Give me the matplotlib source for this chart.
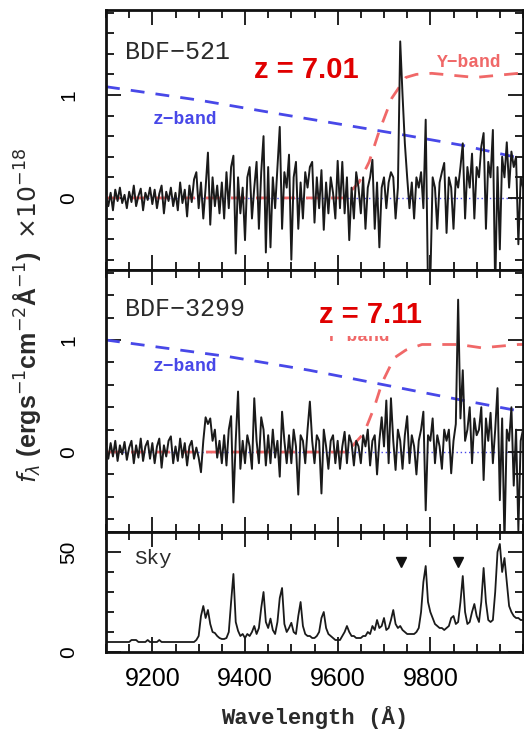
import numpy as np
import matplotlib
matplotlib.use("Agg")
import matplotlib.pyplot as plt
from matplotlib.ticker import MultipleLocator

# ---------------- data ----------------
wave_start, wave_step = 9100, 5   # spectra sampled every 5 A from 9100 to 10000

flux_521 = [
    0.02, -0.08, 0.05, -0.12, 0.08, -0.03, 0.1, -0.05, 0.03, -0.1,
    0.06, -0.04, 0.12, -0.08, 0.02, 0.09, -0.12, 0.05, -0.02, 0.1,
    -0.06, 0.08, -0.1, 0.04, 0.12, -0.15, 0.06, -0.03, 0.1, -0.08,
    0.05, -0.12, 0.15, -0.05, 0.08, -0.18, 0.12, -0.04, 0.18, 0.25,
    -0.1, 0.15, -0.2, 0.1, 0.44, -0.26, 0.2, -0.08, 0.12, -0.15,
    0.15, -0.2, 0.25, -0.1, 0.3, 0.41, -0.54, 0.2, -0.15, 0.1,
    -0.41, 0.2, 0.3, -0.2, 0.1, 0.35, -0.3, 0.25, 0.6, -0.53,
    0.3, -0.48, 0.2, -0.1, 0.3, 0.69, -0.3, 0.25, 0.1, 0.42,
    -0.6, 0.2, 0.35, -0.3, 0.15, -0.2, 0.25, 0.1, 0.3, 0.35,
    -0.24, 0.2, -0.1, 0.27, -0.31, 0.15, -0.15, 0.2, 0.05, -0.2,
    0.36, -0.1, 0.35, -0.15, 0.2, -0.41, 0.1, -0.2, 0.25, 0.1,
    -0.15, 0.2, -0.3, 0.1, 0.2, 0.37, -0.3, 0.15, -0.48, 0.1,
    0.2, -0.1, 0.15, 0.25, 0.2, -0.2, 0.1, 1.52, 1.0, 0.53,
    0.2, -0.1, 0.15, -0.2, 0.2, 0.1, 0.25, -0.1, 0.76, -0.9,
    -0.8, 0.2, 0.1, -0.3, 0.15, 0.25, 0.34, -0.34, 0.2, 0.1,
    -0.3, 0.2, 0.1, 0.3, 0.53, -0.2, 0.3, 0.1, 0.43, -0.2,
    0.3, 0.2, 0.5, 0.63, -0.3, 0.35, 0.2, 0.66, -0.9, 0.3,
    -0.5, 0.4, 0.2, 0.54, 0.1, 0.45, 0.3, 0.4, -0.45, 0.2,
    0.1,
]

flux_3299 = [
    0.05, -0.06, 0.08, -0.04, 0.1, -0.08, 0.06, -0.02, 0.09, -0.07,
    0.04, 0.1, -0.1, 0.06, -0.05, 0.12, -0.08, 0.05, 0.1, -0.06,
    0.08, -0.1, 0.05, 0.12, -0.14, 0.06, -0.04, 0.1, 0.14, -0.1,
    0.05, -0.08, 0.12, -0.05, 0.08, -0.12, 0.05, 0.1, -0.06, 0.04,
    -0.05, -0.18, 0.1, 0.31, 0.25, 0.3, 0.1, 0.2, -0.05, 0.1,
    -0.1, 0.15, -0.12, 0.2, 0.32, -0.45, 0.1, 0.54, -0.15, 0.1,
    -0.1, 0.15, 0.05, -0.15, 0.48, 0.1, -0.1, 0.31, 0.2, -0.12,
    0.15, -0.1, 0.2, -0.05, 0.1, -0.22, 0.36, 0.1, -0.1, 0.15,
    -0.1, 0.2, 0.05, -0.38, 0.15, 0.1, -0.1, 0.2, 0.45, 0.1,
    -0.1, 0.15, 0.1, -0.37, 0.2, 0.05, -0.15, 0.1, 0.15, -0.1,
    0.1, -0.15, 0.05, 0.18, -0.1, 0.15, 0.08, -0.12, 0.1, 0.05,
    -0.1, 0.15, 0.05, 0.2, -0.12, 0.1, 0.15, -0.2, 0.1, 0.31,
    0.05, 0.46, -0.1, 0.48, 0.1, -0.16, 0.2, 0.1, -0.15, 0.15,
    0.32, -0.1, 0.15, 0.05, -0.2, 0.1, 0.2, 0.36, -0.52, 0.15,
    0.1, 0.3, -0.1, 0.15, 0.05, -0.15, 0.2, 0.1, 0.2, -0.19,
    0.1, 0.25, 1.36, 0.3, 0.73, 0.1, 0.2, 0.4, -0.1, 0.3,
    0.15, 0.2, 0.4, -0.25, 0.3, 0.1, 0.35, -0.1, 0.2, 0.57,
    -0.43, 0.3, -0.8, 0.2, 0.1, 0.4, -0.3, 0.2, -0.7, 0.1,
    0.2,
]

sky = [
    5, 5, 5, 5, 5, 5, 5, 5, 5, 5,
    5, 6, 6, 6, 5, 5, 5, 5, 6, 5,
    5, 5, 5, 6, 5, 5, 5, 5, 5, 5,
    5, 5, 5, 5, 5, 5, 5, 5, 5, 6,
    8, 18, 23, 17, 21, 14, 10, 9.5, 8, 7,
    6.5, 6.5, 7, 10, 25, 39, 15, 10.6, 8, 9,
    7, 9, 8, 10, 13, 9, 12, 22, 30, 15,
    12, 16.7, 11, 9, 15, 27, 32, 14, 10, 12,
    14.6, 10, 9, 18, 25, 13, 9, 8, 8, 7,
    7, 8, 10, 17, 20, 12, 9, 8, 7, 6,
    6, 6, 8, 10, 13, 10, 8, 8, 7, 7,
    7, 8, 8, 10, 9, 13, 11, 16, 12, 13,
    17, 11, 12, 16, 21, 14, 12, 13, 11, 10,
    9, 9, 9, 9, 10, 12, 20, 35, 43, 25,
    20, 17, 14, 13, 12, 12, 11, 12, 13, 17,
    18, 14, 15, 25, 38, 20, 14, 15, 20, 24,
    18, 15, 25, 42, 25, 16, 15, 16, 30, 50,
    54, 40, 47, 35, 23, 20, 18, 17, 17, 16,
    16,
]

# filter curves (scaled transmission), read at nodes
zband_w_521 = [9100, 9300, 9481, 9732, 9870, 10000]
zband_f_521 = [1.08, 0.95, 0.81, 0.62, 0.51, 0.38]
yband_w_521 = [9100, 9618, 9625, 9646, 9668, 9689, 9717, 9747, 9770, 9803, 9897, 9990, 10000]
yband_f_521 = [0.0, 0.0, 0.05, 0.15, 0.35, 0.64, 0.97, 1.17, 1.2, 1.21, 1.17, 1.21, 1.21]

zband_w_3299 = [9100, 9367, 9539, 9700, 9872, 10000]
zband_f_3299 = [1.0, 0.85, 0.73, 0.6, 0.46, 0.36]
yband_w_3299 = [9100, 9625, 9631, 9657, 9679, 9696, 9722, 9747, 9782, 9862, 9911, 9990, 10000]
yband_f_3299 = [0.0, 0.0, 0.05, 0.17, 0.4, 0.62, 0.84, 0.91, 0.96, 0.96, 0.93, 0.96, 0.96]

line_marks_w = [9737, 9860]
line_marks_y = [45, 45]

xticks = [9200, 9400, 9600, 9800]

# ---------------- plot ----------------
wave = wave_start + wave_step * np.arange(len(flux_521))

W, H = 524, 732
fig = plt.figure(figsize=(W / 100, H / 100), dpi=100)

def frac(y0, y1):
    return [106 / W, 1 - y1 / H, (523 - 106) / W, (y1 - y0) / H]

ax1 = fig.add_axes(frac(10, 270))
ax2 = fig.add_axes(frac(270, 532))
ax3 = fig.add_axes(frac(532, 652))

mono = ['Liberation Mono', 'DejaVu Sans Mono']
sans = ['Liberation Sans', 'DejaVu Sans']
black_txt = '#2a2a2a'
red_curve = '#f06868'
blue_curve = '#4848e8'
red_txt = '#e00000'
spec_col = '#1a1a1a'

def style(ax, ymaj, ymin):
    ax.set_xlim(9100, 10000)
    ax.xaxis.set_major_locator(plt.FixedLocator(xticks))
    ax.xaxis.set_minor_locator(MultipleLocator(50))
    ax.yaxis.set_major_locator(MultipleLocator(ymaj))
    ax.yaxis.set_minor_locator(MultipleLocator(ymin))
    ax.tick_params(which='both', direction='in', top=True, right=True,
                   width=1.3, color='#111111')
    ax.tick_params(which='major', length=11)
    ax.tick_params(which='minor', length=6)
    ax.tick_params(axis='y', which='major', pad=20, labelsize=15)
    ax.tick_params(axis='x', which='major', pad=11, labelsize=18)
    for sp in ax.spines.values():
        sp.set_linewidth(2.0)
        sp.set_color('#111111')

# top panel
ax1.axhline(0, color=blue_curve, lw=1.0, ls=(0, (1, 2)), zorder=1)
ax1.plot(zband_w_521, zband_f_521, color=blue_curve, lw=2, ls=(0, (5, 4)), zorder=2)
ax1.plot(yband_w_521, yband_f_521, color=red_curve, lw=2, ls=(0, (5, 4)), zorder=2)
ax1.plot(wave, flux_521, color=spec_col, lw=1.4, zorder=3)
ax1.set_ylim(-0.70, 1.825)
style(ax1, 1, 0.2)
ax1.set_yticks([0, 1])
ax1.set_yticklabels(['0', '1'], rotation=90, va='center', family=sans)
ax1.tick_params(axis='x', labelbottom=False)
ax1.text(9140, 1.42, 'BDF\u2212521', family=mono, fontsize=18, color=black_txt, va='center')
ax1.text(9420, 1.24, 'z = 7.01', family=sans, fontsize=21, fontweight='bold', color=red_txt,
         va='center', zorder=5)
ax1.text(9815, 1.32, 'Y\u2212band', family=mono, fontsize=13, fontweight='bold', color=red_curve, va='center')
ax1.text(9200, 0.76, 'z\u2212band', family=mono, fontsize=13, fontweight='bold', color=blue_curve, va='center')

# middle panel
ax2.axhline(0, color=blue_curve, lw=1.0, ls=(0, (1, 2)), zorder=1)
ax2.plot(zband_w_3299, zband_f_3299, color=blue_curve, lw=2, ls=(0, (5, 4)), zorder=2)
ax2.plot(yband_w_3299, yband_f_3299, color=red_curve, lw=2, ls=(0, (5, 4)), zorder=2)
ax2.plot(wave, flux_3299, color=spec_col, lw=1.4, zorder=3)
ax2.set_ylim(-0.714, 1.625)
style(ax2, 1, 0.2)
ax2.set_yticks([0, 1])
ax2.set_yticklabels(['0', '1'], rotation=90, va='center', family=sans)
ax2.tick_params(axis='x', labelbottom=False)
ax2.text(9140, 1.28, 'BDF\u22123299', family=mono, fontsize=18, color=black_txt, va='center')
# Y-band label partly hidden behind the redshift label, as in the original
ax2.text(9575, 1.03, 'Y\u2212band', family=mono, fontsize=13, fontweight='bold', color=red_curve,
         va='center', zorder=4)
ax2.text(9560, 1.22, 'z = 7.11', family=sans, fontsize=21, fontweight='bold', color=red_txt,
         va='center', zorder=5,
         bbox=dict(facecolor='white', edgecolor='none', pad=5))
ax2.text(9200, 0.76, 'z\u2212band', family=mono, fontsize=13, fontweight='bold', color=blue_curve, va='center')

# sky panel
ax3.plot(wave, sky, color=spec_col, lw=1.3)
ax3.plot(line_marks_w, line_marks_y, ls='none', marker='v', ms=7, color='#111111')
ax3.set_ylim(0, 60)
style(ax3, 50, 10)
ax3.set_yticks([0, 50])
ax3.set_yticklabels(['0', '50'], rotation=90, va='center', family=sans)
ax3.text(9160, 47, 'Sky', family=mono, fontsize=15, color=black_txt, va='center')
ax3.set_xticklabels([str(v) for v in xticks], family=sans)

fig.text(315 / W, 1 - 718 / H, 'Wavelength (\u00c5)', family=mono, fontsize=16,
         fontweight='bold', ha='center', va='center', color=black_txt)
fig.text(27 / W, 1 - 315 / H,
         '$f_\\lambda$ (ergs$^{-1}$cm$^{-2}$\u00c5$^{-1}$)  $\\times10^{-18}$',
         family=sans, fontsize=18, fontweight='bold', rotation=90, ha='center', va='center',
         color=black_txt)

fig.savefig('out.png', dpi=100)
